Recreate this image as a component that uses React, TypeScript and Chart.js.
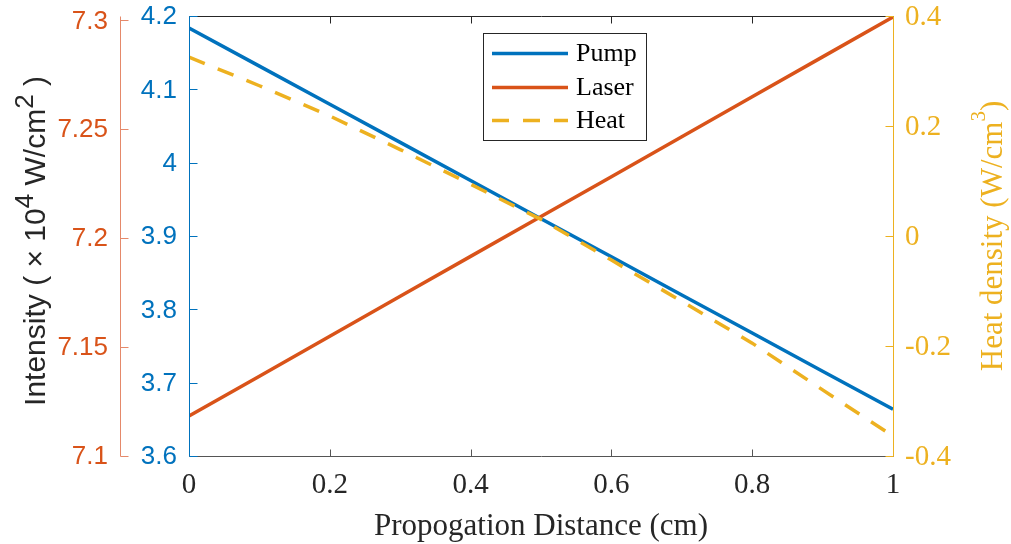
import React, { useEffect, useRef } from "react";
import { Chart, registerables } from "chart.js";

Chart.register(...registerables);

// ---- data ----
const distance = [0, 0.1, 0.2, 0.3, 0.4, 0.5, 0.6, 0.7, 0.8, 0.9, 1.0];
const pump = [4.185, 4.133, 4.081, 4.029, 3.977, 3.925, 3.873, 3.821, 3.769, 3.717, 3.665];
const laser = [7.1188, 7.1371, 7.1554, 7.1738, 7.1921, 7.2104, 7.2287, 7.247, 7.2654, 7.2837, 7.302];
const heat = [0.327, 0.275, 0.22, 0.159, 0.096, 0.032, -0.042, -0.117, -0.193, -0.278, -0.362];
const seriesNames = ["Pump", "Laser", "Heat"];

const xTicks = [0, 0.2, 0.4, 0.6, 0.8, 1];
const xTickLabels = ["0", "0.2", "0.4", "0.6", "0.8", "1"];
const laserTicks = [7.1, 7.15, 7.2, 7.25, 7.3];
const laserTickLabels = ["7.1", "7.15", "7.2", "7.25", "7.3"];
const pumpTicks = [3.6, 3.7, 3.8, 3.9, 4.0, 4.1, 4.2];
const pumpTickLabels = ["3.6", "3.7", "3.8", "3.9", "4", "4.1", "4.2"];
const heatTicks = [-0.4, -0.2, 0, 0.2, 0.4];
const heatTickLabels = ["-0.4", "-0.2", "0", "0.2", "0.4"];

const xTitle = "Propogation Distance (cm)";
const leftTitleParts = [
  { t: "Intensity ( \u00d7 10", sup: false },
  { t: "4", sup: true },
  { t: " W/cm", sup: false },
  { t: "2", sup: true },
  { t: " )", sup: false },
];
const rightTitleParts = [
  { t: "Heat density (W/cm", sup: false },
  { t: "3", sup: true },
  { t: ")", sup: false },
];

// ---- styles ----
const BLUE = "#0072BD";
const ORANGE = "#D95319";
const ORANGE_AXIS = "#E5896A";
const YELLOW = "#EDB120";
const DARK = "#262626";
const SERIF = "'Liberation Serif', 'Times New Roman', serif";
const SANS = "'Liberation Sans', Arial, sans-serif";

function setTicks(values: number[]) {
  return (s: any) => {
    s.ticks = values.map((v) => ({ value: v }));
  };
}
function labelFor(values: number[], labels: string[]) {
  return (v: any) => {
    const i = values.findIndex((t) => Math.abs(t - Number(v)) < 1e-9);
    return i >= 0 ? labels[i] : "";
  };
}
function fitWidth(w: number) {
  return (s: any) => {
    s.width = w;
    s.paddingTop = 0;
    s.paddingBottom = 0;
  };
}

function drawRich(
  ctx: CanvasRenderingContext2D,
  parts: { t: string; sup: boolean }[],
  baseX: number,
  centerY: number,
  font: (sup: boolean) => string,
  raise: number,
  color: string
) {
  ctx.save();
  ctx.translate(baseX, centerY);
  ctx.rotate(-Math.PI / 2);
  ctx.fillStyle = color;
  ctx.textBaseline = "alphabetic";
  ctx.textAlign = "left";
  let total = 0;
  const widths = parts.map((p) => {
    ctx.font = font(p.sup);
    const w = ctx.measureText(p.t).width;
    total += w;
    return w;
  });
  let x = -total / 2;
  parts.forEach((p, i) => {
    ctx.font = font(p.sup);
    ctx.fillText(p.t, x, p.sup ? -raise : 0);
    x += widths[i];
  });
  ctx.restore();
}

const matlabPlugin = {
  id: "matlabAxes",
  afterDatasetsDraw(chart: any) {
    const ctx: CanvasRenderingContext2D = chart.ctx;
    const ca = chart.chartArea;
    const sx = chart.scales.x;
    const sl = chart.scales.yLaser;
    const sp = chart.scales.yPump;
    const sh = chart.scales.yHeat;
    const L = Math.round(ca.left) + 0.5;
    const R = Math.round(ca.right) + 0.5;
    const T = Math.round(ca.top) - 0.5;
    const B = Math.round(ca.bottom) - 0.5;
    const seg = (x1: number, y1: number, x2: number, y2: number, c: string) => {
      ctx.strokeStyle = c;
      ctx.beginPath();
      ctx.moveTo(x1, y1);
      ctx.lineTo(x2, y2);
      ctx.stroke();
    };
    const ry = (y: number) => Math.min(B, Math.max(T, Math.round(y) - 0.5));
    ctx.save();
    ctx.lineWidth = 1;
    seg(L, T, R, T, DARK);
    seg(L, B, R, B, "#555555");
    xTicks.forEach((v) => {
      const px = Math.round(sx.getPixelForValue(v)) + 0.5;
      seg(px, B, px, B - 7, "#555555");
      seg(px, T, px, T + 7, DARK);
    });
    seg(L, T, L, B, BLUE);
    pumpTicks.forEach((v) => {
      const y = ry(sp.getPixelForValue(v));
      seg(L, y, L + 8, y, BLUE);
    });
    seg(R, T, R, B, YELLOW);
    heatTicks.forEach((v) => {
      const y = ry(sh.getPixelForValue(v));
      seg(R, y, R - 8, y, YELLOW);
    });
    const lx = Math.round(sl.right) + 0.5;
    seg(lx, T, lx, B, ORANGE_AXIS);
    laserTicks.forEach((v) => {
      const y = ry(sl.getPixelForValue(v));
      seg(lx, y, lx + 8, y, ORANGE_AXIS);
    });
    ctx.restore();
  },
  afterDraw(chart: any) {
    const ctx: CanvasRenderingContext2D = chart.ctx;
    const ca = chart.chartArea;
    const cy = (ca.top + ca.bottom) / 2;
    drawRich(ctx, leftTitleParts, 45, cy + 4, (s) => `${s ? 26 : 30}px ${SANS}`, 12, DARK);
    drawRich(ctx, rightTitleParts, 1002, cy - 1, (s) => `${s ? 21 : 31}px ${SERIF}`, 17, YELLOW);
    ctx.save();
    const bx1 = 483.5, by1 = 33.5, bx2 = 646.5, by2 = 140.5;
    ctx.fillStyle = "#ffffff";
    ctx.fillRect(bx1, by1, bx2 - bx1, by2 - by1);
    ctx.strokeStyle = DARK;
    ctx.lineWidth = 1;
    ctx.strokeRect(bx1, by1, bx2 - bx1, by2 - by1);
    const rows = [53.5, 87.5, 120.5];
    chart.data.datasets.forEach((ds: any, i: number) => {
      const y = rows[i];
      ctx.strokeStyle = ds.borderColor;
      ctx.lineWidth = ds.borderWidth;
      ctx.setLineDash(ds.borderDash || []);
      ctx.beginPath();
      ctx.moveTo(492, y);
      ctx.lineTo(568, y);
      ctx.stroke();
      ctx.setLineDash([]);
      ctx.fillStyle = "#000000";
      ctx.font = `26px ${SERIF}`;
      ctx.textBaseline = "middle";
      ctx.textAlign = "left";
      ctx.fillText(ds.label, 576, y + 1);
    });
    ctx.restore();
  },
};

export default function App() {
  const ref = useRef<HTMLCanvasElement>(null);
  useEffect(() => {
    const canvas = ref.current;
    if (!canvas) return;
    const toPts = (ys: number[]) => distance.map((x, i) => ({ x, y: ys[i] }));
    const chart = new Chart(canvas, {
      type: "line",
      data: {
        datasets: [
          {
            label: seriesNames[0],
            data: toPts(pump),
            yAxisID: "yPump",
            borderColor: BLUE,
            borderWidth: 3.5,
            pointRadius: 0,
            tension: 0,
            order: 2,
          },
          {
            label: seriesNames[1],
            data: toPts(laser),
            yAxisID: "yLaser",
            borderColor: ORANGE,
            borderWidth: 3.5,
            pointRadius: 0,
            tension: 0,
            order: 1,
          },
          {
            label: seriesNames[2],
            data: toPts(heat),
            yAxisID: "yHeat",
            borderColor: YELLOW,
            borderWidth: 3.5,
            borderDash: [17, 14],
            pointRadius: 0,
            tension: 0,
            order: 0,
          },
        ] as any,
      },
      options: {
        responsive: false,
        animation: false,
        devicePixelRatio: 1,
        layout: { padding: { top: 17, left: 0, right: 0, bottom: 0 } },
        plugins: { legend: { display: false }, tooltip: { enabled: false } },
        scales: {
          x: {
            type: "linear",
            position: "bottom",
            min: 0,
            max: 1,
            afterBuildTicks: setTicks(xTicks),
            grid: { display: false, drawTicks: false },
            border: { display: false },
            ticks: {
              callback: labelFor(xTicks, xTickLabels),
              autoSkip: false,
              maxRotation: 0,
              padding: 11,
              color: DARK,
              font: { family: SERIF, size: 29, lineHeight: 1.2 },
            },
            title: {
              display: true,
              text: xTitle,
              color: DARK,
              font: { family: SERIF, size: 31, lineHeight: 1 },
              padding: { top: 0, bottom: 2 },
            },
            afterFit: (s: any) => {
              s.height = 87;
            },
          },
          yLaser: {
            type: "linear",
            position: "left",
            weight: 1,
            min: 7.1,
            max: 7.302,
            afterBuildTicks: setTicks(laserTicks),
            grid: { display: false, drawTicks: false },
            border: { display: false },
            ticks: {
              callback: labelFor(laserTicks, laserTickLabels),
              autoSkip: false,
              padding: 12,
              color: ORANGE,
              font: { family: SANS, size: 26, lineHeight: 1 },
            },
            afterFit: fitWidth(120),
          },
          yPump: {
            type: "linear",
            position: "left",
            weight: 0,
            min: 3.6,
            max: 4.2,
            afterBuildTicks: setTicks(pumpTicks),
            grid: { display: false, drawTicks: false },
            border: { display: false },
            ticks: {
              callback: labelFor(pumpTicks, pumpTickLabels),
              autoSkip: false,
              padding: 12,
              color: BLUE,
              font: { family: SANS, size: 26, lineHeight: 1 },
            },
            afterFit: fitWidth(69),
          },
          yHeat: {
            type: "linear",
            position: "right",
            min: -0.4,
            max: 0.4,
            afterBuildTicks: setTicks(heatTicks),
            grid: { display: false, drawTicks: false },
            border: { display: false },
            ticks: {
              callback: labelFor(heatTicks, heatTickLabels),
              autoSkip: false,
              padding: 12,
              color: YELLOW,
              font: { family: SERIF, size: 29, lineHeight: 1 },
            },
            afterFit: fitWidth(118),
          },
        },
      } as any,
      plugins: [matlabPlugin],
    });
    return () => chart.destroy();
  }, []);
  return (
    <div style={{ position: "absolute", left: 0, top: 0, width: 1011, height: 544, background: "#ffffff" }}>
      <canvas ref={ref} width={1011} height={544} style={{ display: "block", width: 1011, height: 544 }} />
    </div>
  );
}
